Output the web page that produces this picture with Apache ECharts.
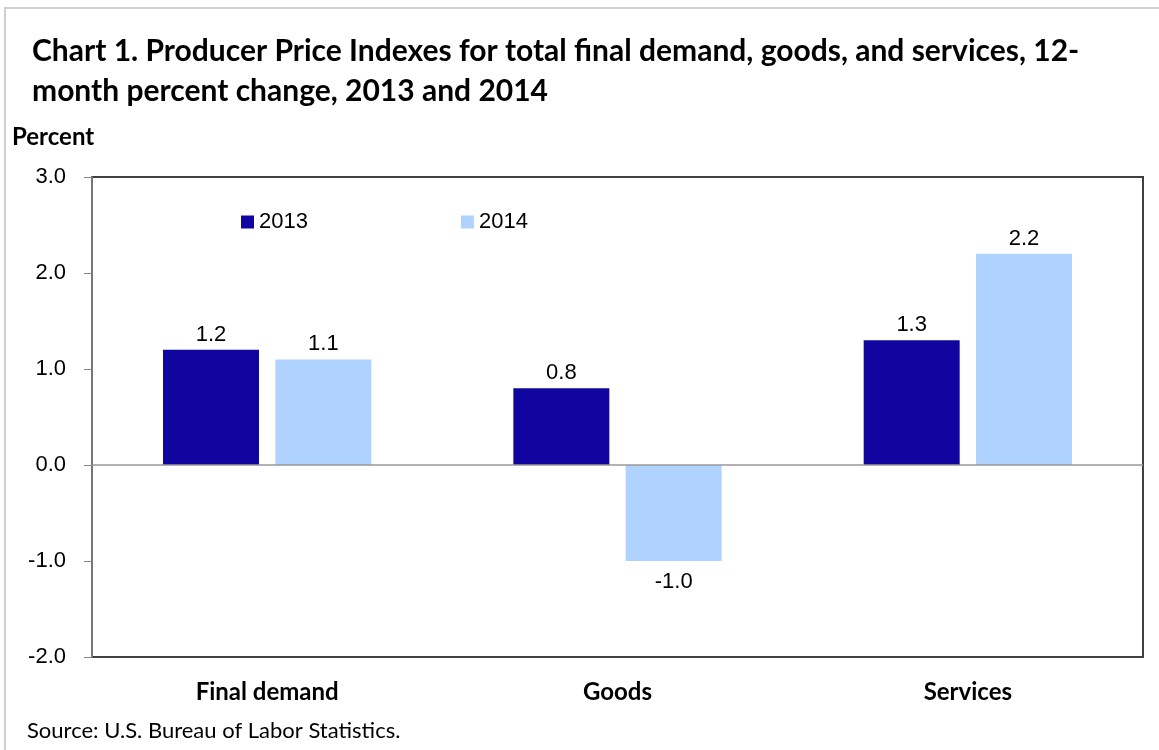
<!DOCTYPE html>
<html>
<head>
<meta charset="utf-8">
<script src="https://cdn.jsdelivr.net/npm/echarts@6/dist/echarts.min.js"></script>
<style>
  html, body { margin: 0; padding: 0; background: #fff; }
  #chart { width: 1159px; height: 750px; }
</style>
</head>
<body>
<div id="chart"></div>
<script>
// chart data
const categories = ["Final demand", "Goods", "Services"];
const values2013 = [1.2, 0.8, 1.3];
const values2014 = [1.1, -1.0, 2.2];
const seriesNames = ["2013", "2014"];

const chart = echarts.init(document.getElementById("chart"));

const labelFont = "'Liberation Sans', Arial, sans-serif";
const calibriLike = "Lato, 'Open Sans', sans-serif";

const option = {
    animation: false,
    backgroundColor: "#fff",
    title: {
        text: "Chart 1. Producer Price Indexes for total final demand, goods, and services, 12-\nmonth percent change, 2013 and 2014",
        left: 27,
        top: 26,
        textStyle: {
            fontFamily: calibriLike,
            fontWeight: "bold",
            fontSize: 30,
            lineHeight: 40,
            color: "#000",
        },
    },
    legend: {
        data: seriesNames,
        left: 236,
        top: 206,
        itemWidth: 13,
        itemHeight: 13,
        itemGap: 153,
        icon: "rect",
        textStyle: {
            fontFamily: labelFont,
            fontSize: 22,
            color: "#000",
        },
    },
    grid: {
        left: 92,
        right: 16,
        top: 177,
        bottom: 93,
        show: true,
        borderColor: "#404040",
        borderWidth: 2,
    },
    xAxis: {
        type: "category",
        data: categories,
        axisLine: { show: false },
        axisTick: { show: false },
        axisLabel: {
            margin: 23,
            fontFamily: calibriLike,
            fontWeight: "bold",
            fontSize: 24,
            color: "#000",
        },
    },
    yAxis: {
        type: "value",
        min: -2,
        max: 3,
        interval: 1,
        name: "Percent",
        nameLocation: "end",
        nameGap: 28,
        nameTextStyle: {
            align: "left",
            padding: [0, 0, 0, -80],
            fontFamily: calibriLike,
            fontWeight: "bold",
            fontSize: 24,
            color: "#000",
        },
        axisLine: { show: true, lineStyle: { color: "#888", width: 1.5 } },
        axisTick: { show: true, length: 8, lineStyle: { color: "#888" } },
        splitLine: { show: false },
        axisLabel: {
            margin: 26,
            formatter: (v) => v.toFixed(1),
            fontFamily: labelFont,
            fontSize: 22,
            color: "#000",
        },
    },
    series: [
        {
            name: seriesNames[0],
            type: "bar",
            data: values2013,
            barWidth: 96,
            barGap: "17%",
            itemStyle: { color: "#10069f" },
            label: {
                show: true,
                position: "top",
                distance: 4,
                formatter: (p) => p.value.toFixed(1),
                fontFamily: labelFont,
                fontSize: 22,
                color: "#000",
            },
            markLine: {
                silent: true,
                symbol: "none",
                label: { show: false },
                lineStyle: { color: "#999", type: "solid", width: 1.5 },
                data: [{ yAxis: 0 }],
            },
        },
        {
            name: seriesNames[1],
            type: "bar",
            data: values2014,
            barWidth: 96,
            itemStyle: { color: "#afd3fe" },
            label: {
                show: true,
                position: "top",
                distance: 4,
                formatter: (p) => p.value.toFixed(1),
                fontFamily: labelFont,
                fontSize: 22,
                color: "#000",
            },
        },
    ],
    graphic: [
        {
            type: "rect",
            shape: { x: 5, y: 8, width: 1170, height: 760 },
            style: { fill: "none", stroke: "#d0d0d0", lineWidth: 2 },
            z: 100,
        },
        {
            type: "text",
            left: 27,
            top: 720,
            style: {
                text: "Source: U.S. Bureau of Labor Statistics.",
                fontFamily: calibriLike,
                fontSize: 22,
                fill: "#000",
            },
        },
    ],
};

// negative values: put their labels below the bar
option.series.forEach((s) => {
    s.data = s.data.map((v) =>
        v < 0 ? { value: v, label: { position: "bottom", distance: 10 } } : v
    );
});

chart.setOption(option);
</script>
</body>
</html>
